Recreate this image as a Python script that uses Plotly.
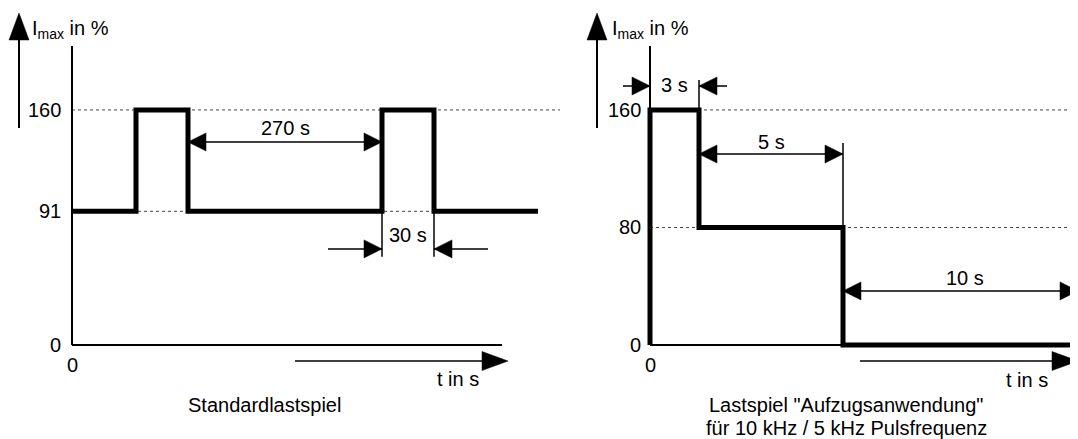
import plotly.graph_objects as go

# schematic time axis (diagram is not to scale), level values in %
left_t = [0, 64, 116, 310, 362, 466]
left_level = [91, 160, 91, 160, 91, 91]
left_ticks = [0, 91, 160]

right_t = [0, 0, 49, 193, 428]
right_level = [0, 160, 80, 0, 0]
right_ticks = [0, 80, 160]

FONT = "Liberation Sans, Arial, sans-serif"
BLACK = "black"

fig = go.Figure()

fig.add_trace(go.Scatter(x=left_t, y=left_level, mode="lines", line_shape="hv",
                         line=dict(color=BLACK, width=5), xaxis="x", yaxis="y"))
fig.add_trace(go.Scatter(x=right_t, y=right_level, mode="lines", line_shape="hv",
                         line=dict(color=BLACK, width=5), xaxis="x2", yaxis="y"))

shapes = []
annotations = []


def hline(xref, x0, x1, y, width=2, dash=None, color=BLACK):
    shapes.append(dict(type="line", xref=xref, yref="y", x0=x0, x1=x1, y0=y, y1=y,
                       line=dict(color=color, width=width, dash=dash), layer="below"))


def vline(xref, x, y0, y1, width=2):
    shapes.append(dict(type="line", xref=xref, yref="y", x0=x, x1=x, y0=y0, y1=y1,
                       line=dict(color=BLACK, width=width), layer="below"))


def head(xref, x, y, direction, length=18, half=9):
    # filled triangle, tip at (x, y), sized in pixels
    if direction == "right":
        p = f"M0,0 L{-length},{half} L{-length},{-half} Z"
    elif direction == "left":
        p = f"M0,0 L{length},{half} L{length},{-half} Z"
    else:  # up
        p = f"M0,0 L{-half},{-length} L{half},{-length} Z"
    shapes.append(dict(type="path", xref=xref, yref="y", xsizemode="pixel", ysizemode="pixel",
                       xanchor=x, yanchor=y, path=p, fillcolor=BLACK,
                       line=dict(color=BLACK, width=0.5)))


def label(xref, x, y, text, xanchor="center", size=20):
    annotations.append(dict(xref=xref, yref="y", x=x, y=y, text=text, showarrow=False,
                            xanchor=xanchor, yanchor="middle",
                            font=dict(family=FONT, size=size, color=BLACK)))


def dim_h(xref, x0, x1, y, width=1.5):
    # horizontal dimension line with arrowheads at both ends
    shapes.append(dict(type="line", xref=xref, yref="y", x0=x0, x1=x1, y0=y, y1=y,
                       line=dict(color=BLACK, width=width)))
    head(xref, x0, y, "left")
    head(xref, x1, y, "right")


def panel(xref, ticks, tick_x, label_x, t_arrow, t_label):
    hline(xref, 0, t_arrow[2], 0)
    vline(xref, 0, 0, 203.6)
    # value arrow with label
    vline(xref, -53, 147.7, 209)
    head(xref, -53, 226, "up", length=27, half=10)
    label(xref, label_x, 215, "I<sub>max</sub> in %", xanchor="left")
    for v in ticks:
        label(xref, tick_x, v, str(v), xanchor="right")
    label(xref, 0, -13.6, "0")
    # time arrow
    x0, x1, _ = t_arrow
    hline(xref, x0, x1 - 20, -10.9, width=1.5)
    head(xref, x1, -10.9, "right", length=26, half=9.5)
    label(xref, t_label[0], t_label[1], "t in s")


# ---- left panel: Standardlastspiel
hline("x", 0, 488, 160, width=1, dash="dot", color="#444")
hline("x", 0, 466, 91, width=1, dash="dot", color="#444")
panel("x", left_ticks, -9, -42, (223, 436, 430), (386, -23.1))
label("x", 192, -40.9, "Standardlastspiel")

# 270 s
dim_h("x", 116, 310, 138.2)
label("x", 213, 147.7, "270 s")
# 30 s
vline("x", 310, 91, 60, width=1.5)
vline("x", 362, 91, 60, width=1.5)
hline("x", 256, 310, 65.4, width=1.5)
head("x", 310, 65.4, "right")
hline("x", 362, 416, 65.4, width=1.5)
head("x", 362, 65.4, "left")
label("x", 336, 74.9, "30 s")

# ---- right panel: Aufzugsanwendung
hline("x2", 0, 428, 160, width=1, dash="dot", color="#444")
hline("x2", 0, 428, 80, width=1, dash="dot", color="#444")
panel("x2", right_ticks, -7, -40, (210, 428, 428), (377, -23.8))
label("x2", 196, -40.9, 'Lastspiel "Aufzugsanwendung"')
label("x2", 196, -56.5, "für 10 kHz / 5 kHz Pulsfrequenz")

# 3 s
vline("x2", 49, 160, 180.4, width=1.5)
hline("x2", -27, 0, 176.3, width=1.5)
head("x2", 0, 176.3, "right")
hline("x2", 49, 77, 176.3, width=1.5)
head("x2", 49, 176.3, "left")
label("x2", 24.5, 177, "3 s")
# 5 s
vline("x2", 193, 80, 137.5, width=1.5)
dim_h("x2", 49, 193, 130)
label("x2", 121, 138, "5 s")
# 10 s
dim_h("x2", 193, 428, 36.8)
label("x2", 315, 45.3, "10 s")

# page body keeps an 8 px margin, so the figure is 8 px smaller than the window
fig.update_layout(
    width=1070, height=431,
    margin=dict(l=0, r=0, t=0, b=0),
    paper_bgcolor="white", plot_bgcolor="white",
    showlegend=False,
    xaxis=dict(range=[-64, 1006], visible=False, domain=[0, 1]),
    xaxis2=dict(range=[-642, 428], visible=False, overlaying="x"),
    yaxis=dict(range=[-64.0, 229.4], visible=False),
    shapes=shapes,
    annotations=annotations,
)

fig.write_html("out.html")
